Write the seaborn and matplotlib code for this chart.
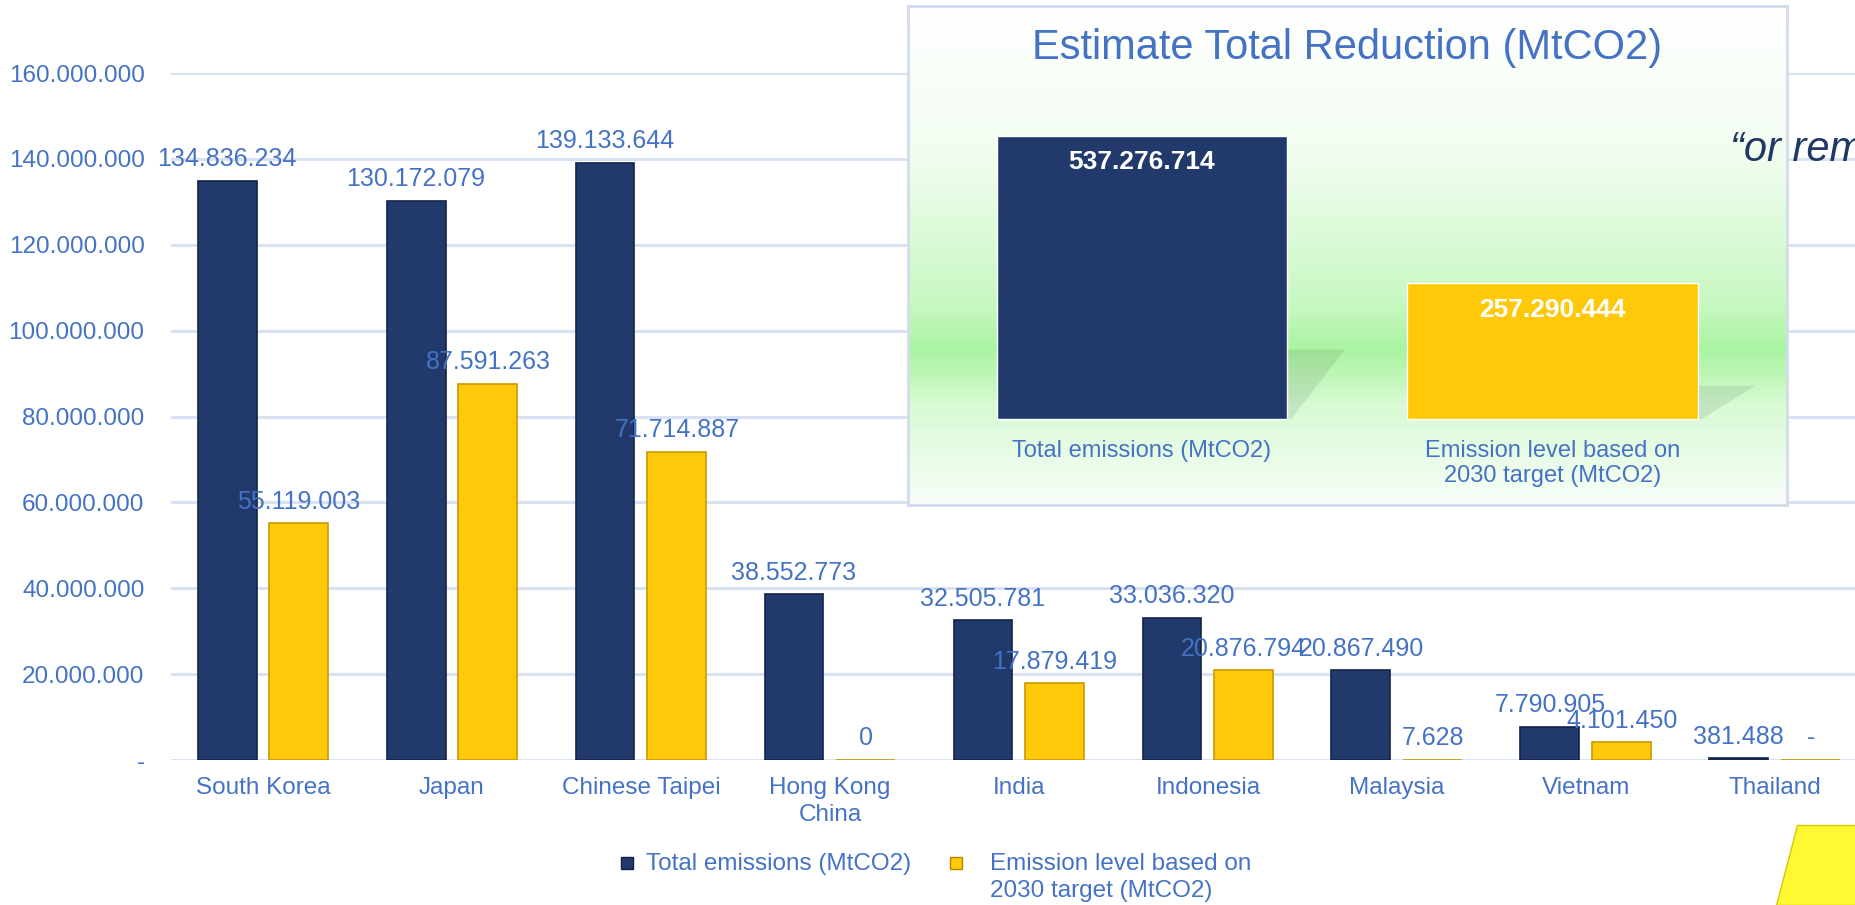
import matplotlib
matplotlib.use('Agg')
import matplotlib.pyplot as plt
import numpy as np
import pandas as pd
import seaborn as sns
from matplotlib.colors import LinearSegmentedColormap
from matplotlib.patches import Polygon, Rectangle

# dados
paises = ['South Korea', 'Japan', 'Chinese Taipei', 'Hong Kong\nChina', 'India',
          'Indonesia', 'Malaysia', 'Vietnam', 'Thailand']
total_emissions = [134836234, 130172079, 139133644, 38552773, 32505781,
                   33036320, 20867490, 7790905, 381488]
target_2030 = [55119003, 87591263, 71714887, 0.3, 17879419,
               20876794, 7628, 4101450, 0]
series = ['Total emissions (MtCO2)', 'Emission level based on\n2030 target (MtCO2)']
y_ticks = [0, 20e6, 40e6, 60e6, 80e6, 100e6, 120e6, 140e6, 160e6]

resumo_titulo = 'Estimate Total Reduction (MtCO2)'
resumo_labels = ['Total emissions (MtCO2)', 'Emission level based on\n2030 target (MtCO2)']
resumo_valores = [537276714, 257290444]

NAVY = '#213A6B'
GOLD = '#FFC808'
BLUE = '#4472C4'
GRID = '#D9E1F2'


def fmt(v):
    if v == 0:
        return '-'
    return f'{v:,.0f}'.replace(',', '.')


sns.set_theme(style='white')
plt.rcParams['font.family'] = ['Liberation Sans', 'DejaVu Sans']

W, H = 1856, 905
fig = plt.figure(figsize=(W / 100, H / 100), dpi=100)


def box(x0, y0, x1, y1):
    return [x0 / W, 1 - y1 / H, (x1 - x0) / W, (y1 - y0) / H]


# gráfico principal
ax = fig.add_axes(box(171, 73, 1856, 760))
df = pd.DataFrame({
    'pais': paises * 2,
    'serie': [series[0]] * len(paises) + [series[1]] * len(paises),
    'valor': total_emissions + target_2030,
})
sns.barplot(data=df, x='pais', y='valor', hue='serie', palette=[NAVY, GOLD],
            saturation=1, width=0.76, gap=0.18, legend=False, ax=ax)
for c, ec in zip(ax.containers, ['#13244A', '#C89A00']):
    for p in c:
        p.set_edgecolor(ec)
        p.set_linewidth(1.2)

for c, vals in zip(ax.containers, [total_emissions, target_2030]):
    ax.bar_label(c, labels=[fmt(v) for v in vals], padding=7,
                 color=BLUE, fontsize=18)

ax.set_xlim(-0.487, 8.43)
ax.set_ylim(0, 160e6)
ax.set_yticks(y_ticks)
ax.set_yticklabels([fmt(v) for v in y_ticks])
ax.grid(axis='y', color=GRID, lw=2.2)
ax.set_axisbelow(True)
for s in ax.spines.values():
    s.set_visible(False)
ax.tick_params(axis='both', colors=BLUE, labelsize=17.5, length=0)
ax.tick_params(axis='y', pad=19)
ax.tick_params(axis='x', pad=12)
for t in ax.get_xticklabels():
    t.set_linespacing(1.3)
ax.set_xlabel('')
ax.set_ylabel('')

# legenda (marcadores + texto, primeira linha alinhada)
leg_y = 1 - 863 / H
for cor, ec, xm, xt, txt in [(NAVY, '#10204A', 627, 646, series[0]),
                             (GOLD, '#B08800', 956, 990, series[1])]:
    fig.patches.append(Rectangle(((xm - 6) / W, leg_y - 6 / H), 12 / W, 12 / H,
                                 transform=fig.transFigure, fc=cor, ec=ec, lw=1))
    fig.text(xt / W, 1 - 853 / H, txt, ha='left', va='top', color=BLUE,
             fontsize=17.5, linespacing=1.3)

# quadro de resumo
bg = fig.add_axes(box(908, 6, 1787, 505))
cmap = LinearSegmentedColormap.from_list('verde', [
    (0.0, '#FFFFFF'), (0.3, '#F2FDF0'), (0.6, '#C8F8C2'),
    (0.69, '#A9F4A1'), (0.8, '#D8FAD4'), (1.0, '#F8FEF8')])
bg.imshow(np.linspace(0, 1, 256)[:, None], aspect='auto', cmap=cmap,
          extent=[0, 1, 0, 1])
bg.set_xticks([])
bg.set_yticks([])
for s in bg.spines.values():
    s.set_color('#D3DBEF')
    s.set_linewidth(2)

ins = fig.add_axes(box(908, 6, 1787, 505))
ins.patch.set_alpha(0)
sns.barplot(x=[0, 1], y=resumo_valores, hue=[0, 1], palette=[NAVY, GOLD],
            saturation=1, width=0.707, legend=False, ax=ins)
ins.set_xlim(-0.570, 1.571)
ins.set_ylim(-163.3e6, 784.1e6)
ins.set_xticks([])
ins.set_yticks([])
for s in ins.spines.values():
    s.set_visible(False)

# sombra atrás das barras
for p in ins.patches:
    x1 = p.get_x() + p.get_width()
    h = 0.245 * p.get_height()
    ins.add_patch(Polygon([(x1, 0), (x1, h), (x1 + 0.14, h), (x1 + 0.01, 0)],
                          closed=True, fc='#5E7F5C', ec='none', alpha=0.17,
                          zorder=p.get_zorder() - 0.1))

for i, (lbl, v) in enumerate(zip(resumo_labels, resumo_valores)):
    ins.annotate(fmt(v), xy=(i, v), xytext=(0, -19), textcoords='offset points',
                 ha='center', va='center', color='white', fontsize=19,
                 fontweight='bold')
    ins.text(i, 0.13, lbl, transform=ins.get_xaxis_transform(), ha='center',
             va='top', color=BLUE, fontsize=17, linespacing=1.15)
ins.text(0.5, 0.915, resumo_titulo, transform=ins.transAxes, ha='center',
         va='center', color=BLUE, fontsize=30)

# texto cortado e forma amarela
fig.text(1730 / W, 1 - 150 / H, '\u201cor rem', fontsize=30, style='italic',
         color='#1F3864', ha='left', va='center')
fig.patches.append(Polygon([(1797 / W, 1 - 825 / H), (1.0, 1 - 825 / H),
                            (1.0, 0.0), (1776 / W, 0.0)],
                           closed=True, transform=fig.transFigure,
                           fc='#FFF833', ec='#D8C800', lw=1))

fig.savefig('out.png', dpi=100)
